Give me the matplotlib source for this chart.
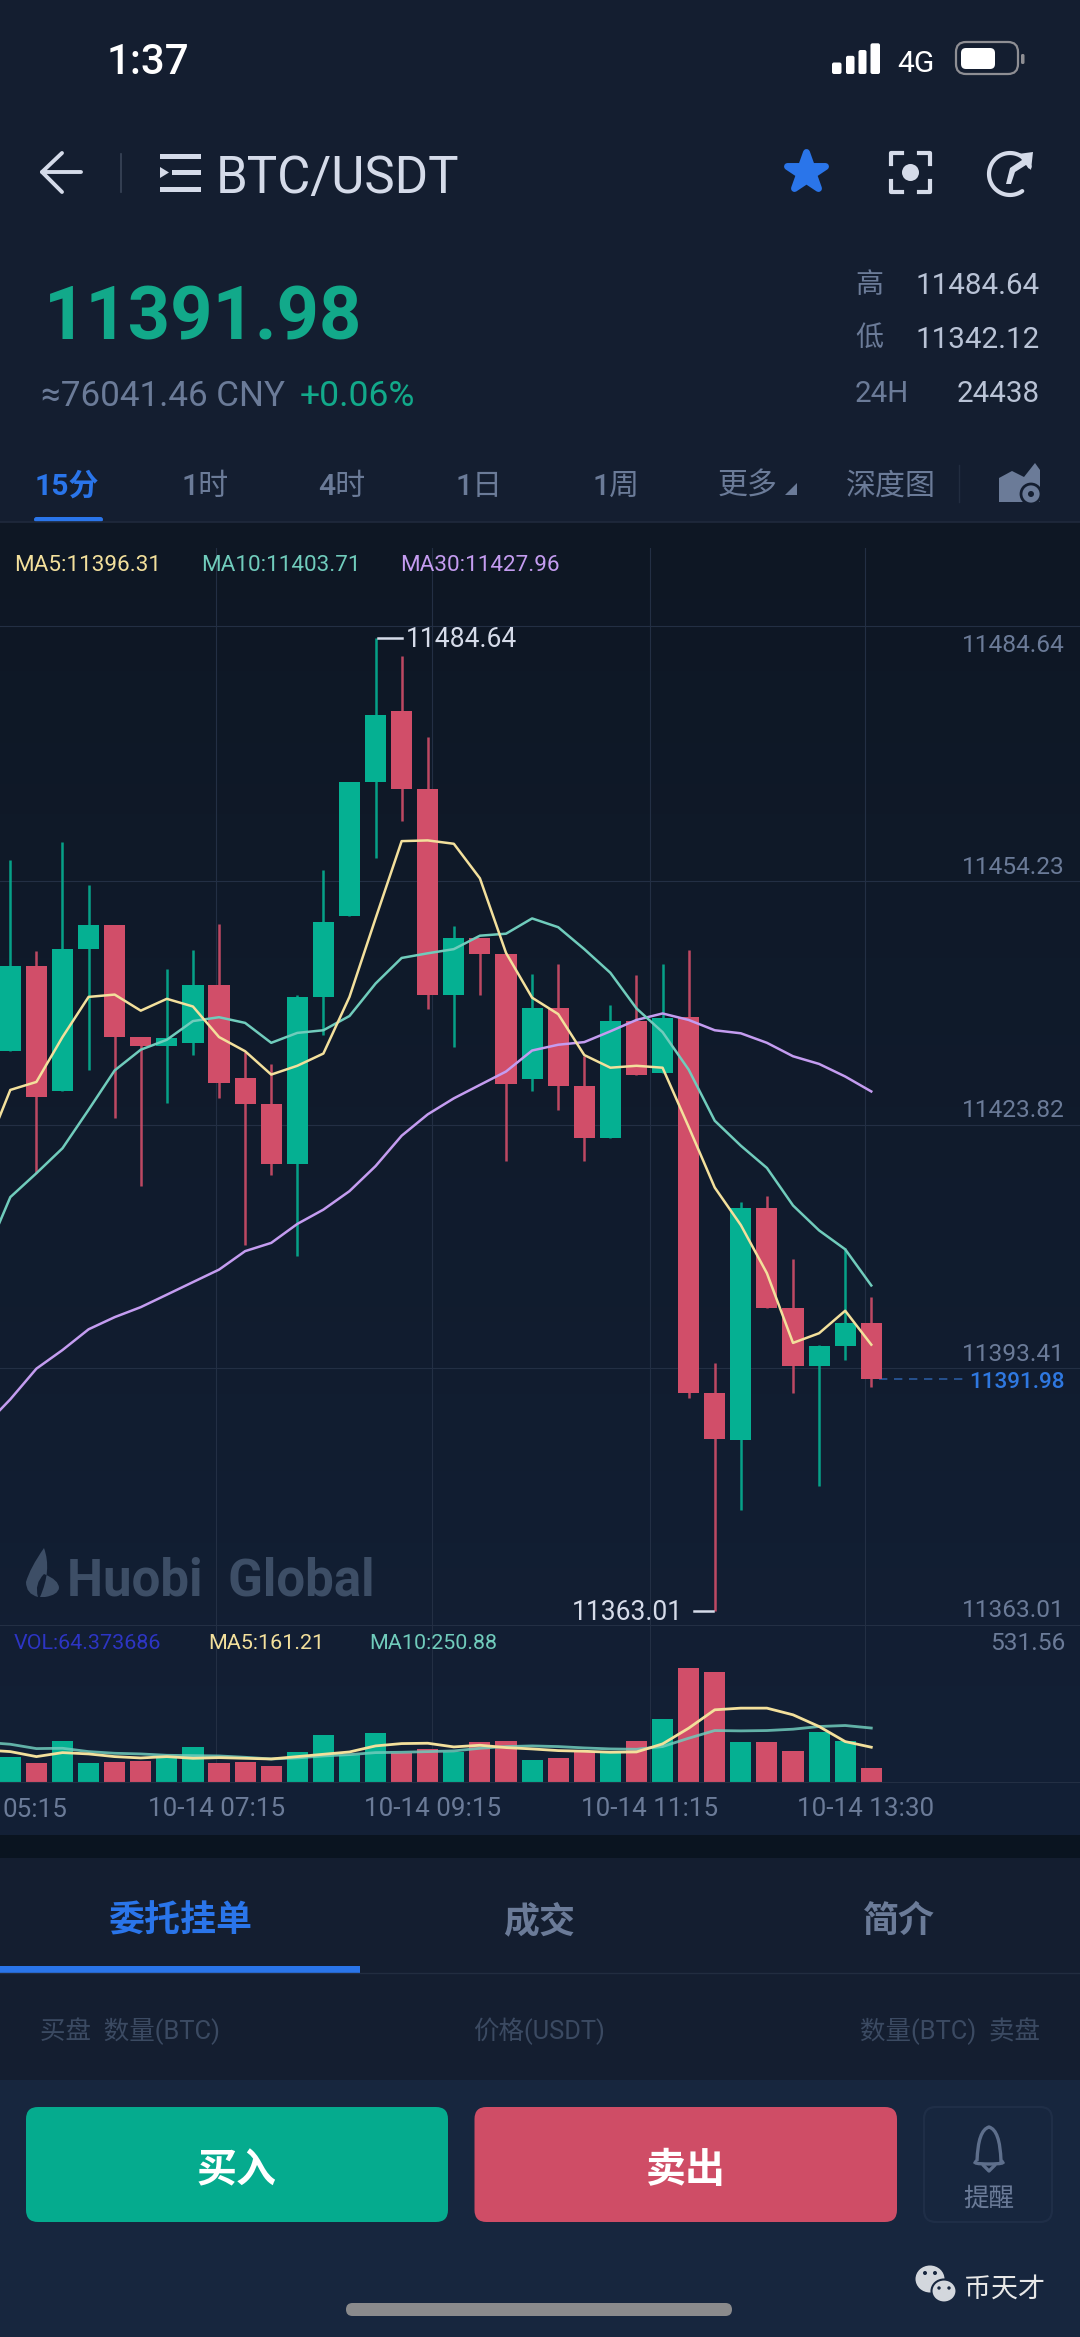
import numpy as np
import matplotlib
matplotlib.use('Agg')
import matplotlib.pyplot as plt
from matplotlib.markers import MarkerStyle
from matplotlib.patches import FancyBboxPatch, Polygon, Circle, Ellipse, PathPatch, Rectangle
from matplotlib.path import Path

plt.rcParams['font.family'] = ['Roboto', 'Noto Sans CJK SC', 'DejaVu Sans']

# candles
opens = [11433.02, 11443.70, 11428.02, 11445.77, 11448.77, 11434.77, 11433.64, 11434.02, 11441.31, 11429.69,
         11426.39, 11418.89, 11439.77, 11449.89, 11466.64, 11475.52, 11465.77, 11440.02, 11447.14, 11445.14,
         11429.52, 11438.39, 11428.64, 11422.14, 11436.77, 11430.30, 11437.27, 11390.27, 11384.39, 11413.39,
         11400.89, 11393.64, 11396.14, 11399.02]
closes = [11443.70, 11427.27, 11445.77, 11448.77, 11434.77, 11433.64, 11434.64, 11441.31, 11429.02, 11426.39,
          11418.89, 11439.77, 11449.14, 11466.64, 11475.02, 11465.77, 11440.02, 11447.14, 11445.14, 11428.89,
          11438.39, 11428.64, 11422.14, 11436.77, 11430.07, 11437.14, 11390.27, 11384.57, 11413.39, 11400.89,
          11393.64, 11396.14, 11399.02, 11391.98]
highs = [11456.89, 11445.52, 11459.14, 11453.77, 11448.77, 11434.77, 11443.27, 11445.64, 11448.89, 11432.89,
         11431.39, 11440.02, 11455.64, 11466.64, 11484.64, 11482.39, 11472.27, 11448.64, 11447.14, 11445.14,
         11442.64, 11443.89, 11432.39, 11438.81, 11442.52, 11443.94, 11445.64, 11394.08, 11414.14, 11414.89,
         11407.02, 11396.27, 11408.39, 11402.27]
lows = [11433.02, 11417.77, 11428.02, 11430.69, 11424.64, 11416.14, 11426.52, 11432.52, 11427.14, 11408.81,
        11417.52, 11407.39, 11435.02, 11449.89, 11457.19, 11461.77, 11438.27, 11433.52, 11440.02, 11419.27,
        11428.02, 11425.64, 11419.27, 11422.14, 11430.07, 11430.30, 11389.70, 11363.01, 11375.69, 11400.89,
        11390.27, 11378.64, 11394.39, 11391.02]

# moving averages, first value belongs to the candle just off the left edge
ma5 = [11420.01, 11428.15, 11429.15, 11434.76, 11439.78, 11440.07, 11438.06, 11439.54, 11438.58, 11434.76,
       11432.99, 11430.07, 11431.17, 11432.70, 11439.78, 11449.59, 11459.25, 11459.34, 11458.92, 11454.60,
       11445.28, 11439.68, 11437.63, 11432.51, 11430.93, 11431.17, 11430.93, 11423.54, 11415.95, 11411.26,
       11405.24, 11396.53, 11397.74, 11400.55, 11396.31]
ma10 = [11407.07, 11414.75, 11417.74, 11420.86, 11425.67, 11430.59, 11433.18, 11434.42, 11436.76, 11437.24,
        11436.53, 11434.04, 11435.28, 11435.61, 11437.39, 11441.45, 11444.65, 11445.23, 11445.75, 11447.43,
        11447.68, 11449.59, 11448.49, 11445.75, 11442.79, 11438.34, 11435.38, 11430.69, 11424.30, 11421.18,
        11418.40, 11413.71, 11410.59, 11408.23, 11403.71]
ma30 = [11386.09, 11389.48, 11393.31, 11395.64, 11398.23, 11399.75, 11401.00, 11402.56, 11404.13, 11405.69,
        11408.00, 11409.03, 11411.40, 11413.19, 11415.50, 11418.63, 11422.43, 11425.10, 11427.10, 11428.78,
        11430.45, 11433.08, 11433.80, 11434.13, 11435.48, 11436.90, 11437.71, 11436.90, 11435.61, 11435.23,
        11434.04, 11432.36, 11431.40, 11429.83, 11427.96]

volumes = [117.3, 86.0, 190.7, 89.1, 92.2, 96.9, 109.4, 161.0, 87.6, 92.2, 71.9, 139.1, 217.3, 125.0, 228.3, 136.0, 154.8,
           140.7, 187.6, 190.7, 100.0, 109.4, 140.7, 136.0, 189.2, 290.8, 531.56, 512.8, 184.5, 184.5, 142.3, 232.9,
           190.7, 64.37]
vol_ma5 = [148.5, 140.7, 117.3, 136.0, 129.8, 117.3, 111.0, 117.3, 109.4, 112.6, 109.4, 106.3, 117.3, 128.2, 139.1,
           167.3, 178.2, 179.8, 162.6, 170.4, 159.5, 153.2, 145.4, 142.3, 137.6, 139.1, 176.7, 250.1, 336.1, 343.9,
           343.9, 312.7, 258.0, 187.6, 161.21]
vol_ma10 = [184.5, 175.1, 154.8, 156.3, 140.7, 132.9, 129.8, 123.5, 121.9, 120.4, 114.1, 106.3, 111.0, 120.4, 126.6,
            136.0, 137.6, 140.7, 143.8, 156.3, 164.2, 167.3, 164.2, 157.9, 153.2, 151.6, 164.2, 203.2, 239.2, 237.6,
            239.2, 245.5, 258.0, 262.7, 250.88]

price_grid = [11486.14, 11454.23, 11423.82, 11393.41, 11361.27]
price_labels = ['11484.64', '11454.23', '11423.82', '11393.41', '11363.01']
price_label_y = [651.7, 873.7, 1116.7, 1360.7, 1616.8]
time_pos = [7.89, 16.17, 24.5, 32.77]
time_labels = ['10-14 07:15', '10-14 09:15', '10-14 11:15', '10-14 13:30']
last_price = 11391.98
top_price = 11484.64
low_price = 11363.01

GREEN = '#05b092'
RED = '#d14e69'
BLUE = '#2a75ea'
MUTED = '#6b7b98'
LIGHT = '#d5dbe9'
C_MA5 = '#f3e09c'
C_MA10 = '#70ccbc'
C_MA30 = '#c49cf0'
GRIDC = '#232f44'

W, H = 1080, 2337
fig = plt.figure(figsize=(W / 100, H / 100), dpi=100, facecolor='#141e30')


def px(size):
    return size * 72 / 100


# pixel canvas for the app chrome
ui = fig.add_axes([0, 0, 1, 1], zorder=0)
ui.set_xlim(0, W)
ui.set_ylim(H, 0)
ui.axis('off')


def label(x, y, s, size, color, ha='left', weight='normal', target=None):
    (target or ui).text(x, y, s, fontsize=px(size), color=color, ha=ha, va='baseline', fontweight=weight)


def rrect(x0, y0, x1, y1, r, **kw):
    ui.add_patch(FancyBboxPatch((x0, y0), x1 - x0, y1 - y0, boxstyle=f'round,pad=0,rounding_size={r}', **kw))


# background bands
ui.add_patch(Rectangle((0, 0), W, 522, color='#141e30', lw=0))
grad = np.linspace(0, 1, 256).reshape(-1, 1, 1)
c0 = np.array([0x0e, 0x17, 0x24]) / 255
c1 = np.array([0x13, 0x20, 0x36]) / 255
ui.imshow(c0 + (c1 - c0) * grad, extent=[0, W, 1835, 522], aspect='auto', zorder=0)
ui.set_xlim(0, W)
ui.set_ylim(H, 0)
ui.add_patch(Rectangle((0, 1835), W, 23, color='#0a1420', lw=0))
ui.add_patch(Rectangle((0, 1858), W, 222, color='#141e30', lw=0))
ui.add_patch(Rectangle((0, 2080), W, 257, color='#17263e', lw=0))
ui.plot([0, W], [522, 522], color='#1f2a3d', lw=1.2)

# status bar
label(107, 74, '1:37', 42, 'white', weight='medium')
for x0, x1, top in [(832, 841.5, 62.5), (846, 854.5, 55.8), (858.5, 866.5, 50), (870.5, 880, 43.3)]:
    rrect(x0, top, x1, 74, 2, color='white', lw=0)
label(897, 72, '4G', 30, 'white')
rrect(956, 42, 1018, 74, 10, fc='none', ec='#8e8e93', lw=1.6)
rrect(961, 48, 995, 69, 5, color='white', lw=0)
rrect(1021, 54, 1024.5, 64, 1.5, color='#8e8e93', lw=0)

# header icons
ui.plot([81, 42, 62], [172, 172, 153], color=LIGHT, lw=2.8, solid_capstyle='round', solid_joinstyle='round')
ui.plot([42, 62], [172, 192], color=LIGHT, lw=2.8, solid_capstyle='round')
ui.plot([120.5, 120.5], [154, 192], color='#3a4558', lw=1.2)
for x0, y0, y1 in [(160, 154, 159), (172, 170, 175), (160, 187, 192)]:
    ui.add_patch(Rectangle((x0, y0), 201 - x0, y1 - y0, color=LIGHT, lw=0))
ui.add_patch(Polygon([(160, 167), (169, 172.5), (160, 178)], color=LIGHT, lw=0))
label(216, 193, 'BTC/USDT', 51, LIGHT)
ui.plot([806], [172], marker=MarkerStyle('*', joinstyle='round'), ms=29, color=BLUE, mec=BLUE, mew=5, mfc=BLUE,
        ls='none')
for cx, cy, dx, dy in [(891, 153, 1, 1), (930, 153, -1, 1), (891, 192, 1, -1), (930, 192, -1, -1)]:
    ui.plot([cx + 11 * dx, cx, cx], [cy, cy, cy + 11 * dy], color=LIGHT, lw=3, solid_joinstyle='round')
ui.add_patch(Circle((910.5, 172.5), 8.5, color=LIGHT, lw=0))
t = np.radians(np.linspace(-70, 215, 60))
ui.plot(1010 - 21 * np.sin(t + 0.6), 174 + 21 * np.cos(t + 0.6), color=LIGHT, lw=3, solid_capstyle='round')
ui.add_patch(Polygon([(1006, 184), (1010, 168), (1022, 160), (1018, 154), (1033, 152), (1031, 170), (1026, 165),
                      (1015, 172), (1011, 184)], color=LIGHT, lw=0))

# price block
label(44, 339, '11391.98', 74, '#12a98a', weight='bold')
label(41, 406, '\u224876041.46 CNY', 35, MUTED)
label(300, 406, '+0.06%', 35.5, '#12a98a')
label(855, 293, '高', 28, MUTED)
label(855, 346, '低', 28, MUTED)
label(855, 402, '24H', 29.5, MUTED)
label(1040, 294, '11484.64', 29.5, '#b9c3d6', ha='right')
label(1040, 348, '11342.12', 29.5, '#b9c3d6', ha='right')
label(1040, 402, '24438', 29.5, '#b9c3d6', ha='right')

# period tabs
label(67, 495, '15分', 30, BLUE, ha='center', weight='bold')
for cx, s in [(205, '1时'), (342, '4时'), (479, '1日'), (616, '1周'), (748, '更多'), (891, '深度图')]:
    label(cx, 495, s, 30, MUTED, ha='center', weight='medium')
ui.add_patch(Polygon([(797, 483), (797, 495), (785, 495)], color=MUTED, lw=0))
ui.plot([959, 959], [465, 502], color='#222d40', lw=1)
ui.add_patch(Polygon([(999, 502), (999, 478), (1012, 471), (1024, 477), (1035, 463), (1040, 470), (1040, 502)],
                     color=MUTED, lw=0))
ui.add_patch(Circle((1031, 494), 10, fc=MUTED, ec='#141e30', lw=2))
ui.add_patch(Circle((1031, 494), 3, color='#141e30', lw=0))
rrect(34, 517, 103, 522, 2.5, color=BLUE, lw=0)

# watermark under the candles
flame = Path([(44, 1548), (30, 1568), (26, 1582), (26, 1594), (38, 1597), (34, 1584), (44, 1574),
              (59, 1580), (59, 1588), (58, 1595), (45, 1597), (40, 1597), (52, 1570), (44, 1548)],
             [Path.MOVETO, Path.CURVE3, Path.CURVE3, Path.CURVE3, Path.CURVE3, Path.CURVE3, Path.CURVE3,
              Path.CURVE3, Path.CURVE3, Path.CURVE3, Path.CURVE3, Path.LINETO, Path.CURVE3, Path.CURVE3])
ui.add_patch(PathPatch(flame, fc='#3d4e66', ec='none'))
label(67, 1596, 'Huobi  Global', 51, '#3d4e66', weight='bold')

# order book tabs and footer
label(180, 1932, '委托挂单', 36, BLUE, ha='center', weight='bold')
label(539, 1932, '成交', 36, MUTED, ha='center', weight='bold')
label(899, 1932, '简介', 36, MUTED, ha='center', weight='bold')
ui.plot([0, W], [1973, 1973], color='#222d40', lw=1)
ui.add_patch(Rectangle((0, 1966), 360, 7, color=BLUE, lw=0))
label(40, 2039, '买盘  数量(BTC)', 25.5, '#3b4a62')
label(539, 2039, '价格(USDT)', 25.5, '#3b4a62', ha='center')
label(1040, 2039, '数量(BTC)  卖盘', 25.5, '#3b4a62', ha='right')
rrect(26, 2107, 448, 2222, 12, color='#05ab8e', lw=0)
rrect(474.5, 2107, 897, 2222, 12, color='#cf4d66', lw=0)
rrect(924, 2107, 1052, 2222, 12, fc='none', ec='#1f2e47', lw=1.6)
label(237, 2182, '买入', 40, 'white', ha='center', weight='bold')
label(686, 2182, '卖出', 40, 'white', ha='center', weight='bold')
bell = Path([(977, 2161), (978, 2130), (989, 2127), (1000, 2130), (1001, 2161), (1008, 2164), (989, 2164), (970, 2164),
             (977, 2161)],
            [Path.MOVETO, Path.CURVE3, Path.CURVE3, Path.CURVE3, Path.CURVE3, Path.CURVE3, Path.LINETO, Path.CURVE3,
             Path.CURVE3])
ui.add_patch(PathPatch(bell, fc='none', ec='#5e6f8c', lw=2.4))
ui.plot([983, 989, 995], [2165, 2171, 2165], color='#5e6f8c', lw=2.4, solid_capstyle='round')
label(989, 2206, '提醒', 25.5, MUTED, ha='center')
rrect(346, 2303, 732, 2316, 6.5, color='#8a8a8c', lw=0)
ui.add_patch(Ellipse((930, 2279), 29, 27, color='#d3d7dd', lw=0))
ui.add_patch(Ellipse((944, 2291), 25, 23, fc='#d3d7dd', ec='#17263e', lw=1.5))
for ex, ey, er in [(925, 2273, 2), (935, 2273, 2), (939, 2288, 1.7), (949, 2288, 1.7)]:
    ui.add_patch(Circle((ex, ey), er, color='#17263e', lw=0))
label(964, 2297, '币天才', 27, '#e8e8e8')

# price pane, full width, index axis
x_left, x_right = -0.395, 41.0
price_ax = fig.add_axes([0, 1 - 1625 / H, 1, (1625 - 548) / H], zorder=1)
price_ax.set_facecolor('none')
price_ax.set_xlim(x_left, x_right)
price_ax.set_ylim(11361.27, 11495.89)
for spine in price_ax.spines.values():
    spine.set_visible(False)
price_ax.set_xticks(time_pos)
price_ax.set_yticks(price_grid)
price_ax.tick_params(length=0, labelleft=False, labelbottom=False)
price_ax.grid(True, color=GRIDC, lw=0.8)
price_ax.set_axisbelow(True)

idx = np.arange(len(opens))
for i in idx:
    col = GREEN if closes[i] >= opens[i] else RED
    price_ax.vlines(i, lows[i], highs[i], color=col, lw=1.8, alpha=0.9, zorder=2)
    price_ax.bar(i, abs(closes[i] - opens[i]), bottom=min(opens[i], closes[i]), width=0.81, color=col, lw=0, zorder=3)

ma_x = np.arange(-1, len(opens))
price_ax.plot(ma_x, ma30, color=C_MA30, lw=1.8, zorder=4)
price_ax.plot(ma_x, ma10, color=C_MA10, lw=1.8, zorder=4)
price_ax.plot(ma_x, ma5, color=C_MA5, lw=1.8, zorder=5)

# high / low / last markers
price_ax.plot([14.1, 15.0], [top_price, top_price], color=LIGHT, lw=1.8, zorder=5)
price_ax.plot([26.2, 26.92], [low_price, low_price], color=LIGHT, lw=1.8, zorder=5)
price_ax.plot([33.3, 36.6], [last_price, last_price], color='#2a5a9e', lw=1.2, ls=(0, (5, 4)), zorder=2)

# volume pane
vol_ax = fig.add_axes([0, 1 - 1781.7 / H, 1, (1781.7 - 1625) / H], zorder=1)
vol_ax.set_facecolor('none')
vol_ax.set_xlim(x_left, x_right)
vol_ax.set_ylim(0, 732.6)
for name, spine in vol_ax.spines.items():
    spine.set_visible(name in ('top', 'bottom'))
    spine.set_color(GRIDC)
vol_ax.set_yticks([])
vol_ax.set_xticks(time_pos)
vol_ax.set_xticklabels(time_labels)
vol_ax.tick_params(length=0, labelsize=px(26), labelcolor=MUTED, pad=px(15.5))
vol_ax.grid(True, axis='x', color=GRIDC, lw=0.8)
vol_ax.set_axisbelow(True)
vol_colors = [GREEN if closes[i] >= opens[i] else RED for i in idx]
vol_ax.bar(idx, volumes, width=0.81, color=vol_colors, lw=0, zorder=2)
vol_ax.plot(ma_x, vol_ma10, color=C_MA10, lw=2.0, alpha=0.85, zorder=3)
vol_ax.plot(ma_x, vol_ma5, color=C_MA5, lw=2.0, zorder=4)

# texts over the chart panes
top = fig.add_axes([0, 0, 1, 1], zorder=2)
top.set_xlim(0, W)
top.set_ylim(H, 0)
top.axis('off')
label(14.5, 571, 'MA5:11396.31', 22.5, C_MA5, target=top)
label(200.8, 571, 'MA10:11403.71', 22.5, C_MA10, target=top)
label(400, 571, 'MA30:11427.96', 22.5, C_MA30, target=top)
label(406, 647, '11484.64', 26.5, LIGHT, target=top)
label(683, 1620, '11363.01', 26.5, LIGHT, ha='right', target=top)
for s, y in zip(price_labels, price_label_y):
    label(1065, y, s, 24.5, MUTED, ha='right', target=top)
label(1065, 1387.5, '11391.98', 22.5, '#2f78e0', ha='right', weight='medium', target=top)
label(14, 1649, 'VOL:64.373686', 21.5, '#2d35c4', target=top)
label(208, 1649, 'MA5:161.21', 21.5, C_MA5, target=top)
label(369, 1649, 'MA10:250.88', 21.5, C_MA10, target=top)
label(1065, 1650.5, '531.56', 24.5, MUTED, ha='right', target=top)
label(67.5, 1817, '05:15', 26, MUTED, ha='right', target=top)

fig.savefig('out.png', dpi=100, facecolor=fig.get_facecolor())
